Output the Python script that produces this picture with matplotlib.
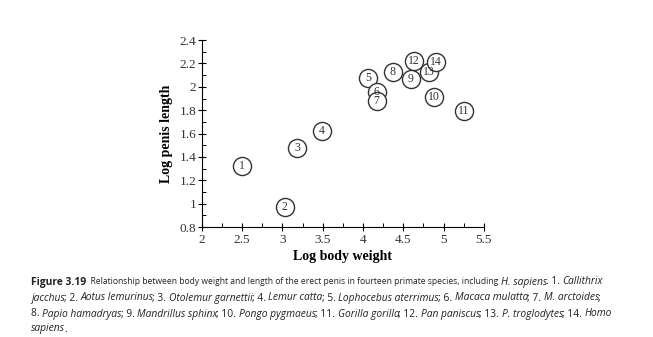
import matplotlib.pyplot as plt
from matplotlib.ticker import MultipleLocator

# =========================
# DATA
# =========================

species_no = [1, 2, 3, 4, 5, 6, 7, 8, 9, 10, 11, 12, 13, 14]
log_body_weight = [2.50, 3.03, 3.18, 3.49, 4.06, 4.17, 4.17, 4.37, 4.59, 4.88, 5.25, 4.63, 4.82, 4.90]
log_penis_length = [1.32, 0.97, 1.48, 1.62, 2.08, 1.955, 1.88, 2.13, 2.07, 1.91, 1.79, 2.22, 2.13, 2.21]

x_ticks = [2, 2.5, 3, 3.5, 4, 4.5, 5, 5.5]
x_tick_labels = ["2", "2.5", "3", "3.5", "4", "4.5", "5", "5.5"]
y_ticks = [0.8, 1, 1.2, 1.4, 1.6, 1.8, 2, 2.2, 2.4]
y_tick_labels = ["0.8", "1", "1.2", "1.4", "1.6", "1.8", "2", "2.2", "2.4"]

caption_lines = [
    [("Figure 3.19", "bold"), ("  Relationship between body weight and length of the erect penis in fourteen primate species, including ", "narrow"),
     ("H. sapiens", "italic"), (". 1. ", "normal"), ("Callithrix", "italic")],
    [("jacchus", "italic"), ("; 2. ", "normal"), ("Aotus lemurinus", "italic"), ("; 3. ", "normal"),
     ("Otolemur garnettii", "italic"), ("; 4. ", "normal"), ("Lemur catta", "italic"), ("; 5. ", "normal"),
     ("Lophocebus aterrimus", "italic"), ("; 6. ", "normal"), ("Macaca mulatta", "italic"), ("; 7. ", "normal"),
     ("M. arctoides", "italic"), (";", "normal")],
    [("8. ", "normal"), ("Papio hamadryas", "italic"), ("; 9. ", "normal"), ("Mandrillus sphinx", "italic"),
     ("; 10. ", "normal"), ("Pongo pygmaeus", "italic"), ("; 11. ", "normal"), ("Gorilla gorilla", "italic"),
     ("; 12. ", "normal"), ("Pan paniscus", "italic"), ("; 13. ", "normal"), ("P. troglodytes", "italic"),
     ("; 14. ", "normal"), ("Homo", "italic")],
    [("sapiens", "italic"), (".", "normal")],
]

# =========================
# PLOT
# =========================

fig = plt.figure(figsize=(6.53, 3.37), dpi=100)
ax = fig.add_axes([0.309, 0.326, 0.432, 0.555])

serif = ["Liberation Serif", "DejaVu Serif"]

ax.scatter(log_body_weight, log_penis_length, s=170, facecolor="white",
           edgecolor="#333333", linewidth=1.0, zorder=2)
for n, x, y in zip(species_no, log_body_weight, log_penis_length):
    ax.text(x, y, str(n), ha="center", va="center", fontsize=8.5,
            family=serif, color="#333333", zorder=3)

ax.set_xlim(2, 5.5)
ax.set_ylim(0.8, 2.4)
ax.set_xticks(x_ticks)
ax.set_xticklabels(x_tick_labels, family=serif, fontsize=9.5, color="#333333")
ax.set_yticks(y_ticks)
ax.set_yticklabels(y_tick_labels, family=serif, fontsize=9.5, color="#333333")
ax.xaxis.set_minor_locator(MultipleLocator(0.25))
ax.yaxis.set_minor_locator(MultipleLocator(0.1))

ax.spines["top"].set_visible(False)
ax.spines["right"].set_visible(False)
ax.spines["left"].set_linewidth(0.8)
ax.spines["bottom"].set_linewidth(0.8)
ax.tick_params(which="major", direction="inout", length=6, width=0.8)
ax.tick_params(axis="x", which="major", pad=2)
ax.tick_params(axis="y", which="major", pad=1)
ax.tick_params(which="minor", direction="in", length=3, width=0.7)

ax.set_xlabel("Log body weight", family=serif, fontsize=10, fontweight="bold", labelpad=3)
ax.set_ylabel("Log penis length", family=serif, fontsize=10, fontweight="bold", labelpad=5)

# =========================
# CAPTION
# =========================

line_y = [282, 298, 314, 329]
line_width = [572, 582, 582, None]
base_size = 7.8
x0 = 31

groups = []
for pieces, ypx in zip(caption_lines, line_y):
    group = []
    for text, style in pieces:
        kw = dict(fontsize=base_size, family=["Open Sans", "DejaVu Sans"], color="#222222", va="center")
        if style == "bold":
            kw["fontweight"] = "bold"
        if style == "italic":
            kw["style"] = "italic"
        t = fig.text(x0 / 653, 1 - ypx / 337, text, ha="left", **kw)
        t.narrow = style == "narrow"
        group.append(t)
    groups.append(group)

renderer = fig.canvas.get_renderer()


def layout(group, ypx):
    xpos = x0
    for t in group:
        t.set_position((xpos / 653, 1 - ypx / 337))
        xpos = xpos + t.get_window_extent(renderer).width
        if t.get_style() == "italic":
            xpos -= 1.0
    return xpos - x0


# lines 2-3 set the common size
w2 = layout(groups[1], line_y[1])
w3 = layout(groups[2], line_y[2])
scale = 0.5 * (line_width[1] / w2 + line_width[2] / w3)
for group, ypx in zip(groups, line_y):
    for t in group:
        t.set_fontsize(base_size * scale)
    layout(group, ypx)

# first line: the long plain-text run is condensed in the reference, shrink only it
for _ in range(3):
    w1 = layout(groups[0], line_y[0])
    narrow = [t for t in groups[0] if t.narrow][0]
    nw = narrow.get_window_extent(renderer).width
    narrow.set_fontsize(narrow.get_fontsize() * (nw - (w1 - line_width[0])) / nw)
layout(groups[0], line_y[0])

fig.savefig("out.png", dpi=100)
